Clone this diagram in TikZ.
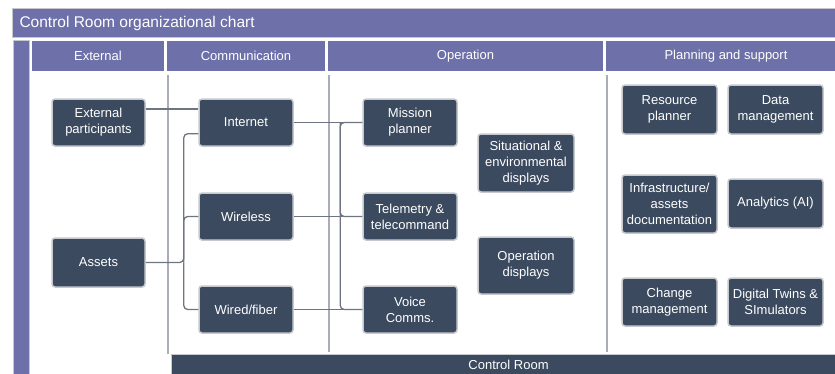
\documentclass[tikz,border=0pt]{standalone}
\usepackage{fontspec}
\setmainfont{Liberation Sans}
\definecolor{crpurple}{HTML}{6D70A9}
\definecolor{crnavy}{HTML}{3B4A5F}
\definecolor{crline}{HTML}{6F7580}
\definecolor{crrule}{HTML}{A9ADB5}
\definecolor{crrim}{HTML}{C5C9CE}
\begin{document}
\begin{tikzpicture}[x=1pt,y=-1pt,
  box/.style={draw=crrim,line width=1.5pt,fill=crnavy,rounded corners=3pt,text=white,
    font=\fontsize{13}{16}\selectfont,align=center,inner sep=0pt,
    minimum width=94pt,minimum height=47pt},
  head/.style={fill=crpurple,text=white,font=\fontsize{13}{16}\selectfont,
    inner sep=0pt,minimum height=30pt},
  link/.style={draw=crline,line width=1.3pt,rounded corners=4pt},
  rule/.style={draw=crrule,line width=1.2pt}]
	\useasboundingbox (0,0) rectangle (835,373);
	% frame
	\filldraw[fill=crpurple,draw=crrim,line width=1pt] (12,8.5) rectangle (845,37);
	\node[anchor=west,text=white,font=\fontsize{15.5}{18}\selectfont] (title) at (16,23) {Control Room organizational chart};
	\filldraw[fill=crpurple,draw=crrim,line width=1pt] (13,40) rectangle (29,390);
	\node[head,minimum width=132pt] (hext)  at (98,56)    {External};
	\node[head,minimum width=158pt] (hcom)  at (246,56)   {Communication};
	\node[head,minimum width=275pt] (hop)   at (465.5,56) {Operation};
	\node[head,minimum width=240pt] (hplan) at (726,56)   {Planning and support};
	\draw[rule] (168,75) -- (168,354);
	\draw[rule] (329,75) -- (329,352);
	\draw[rule] (607,75) -- (607,352);
	\node[draw=crrim,line width=1pt,fill=crnavy,text=white,font=\fontsize{13}{16}\selectfont,
	  minimum width=675pt,minimum height=22pt,inner sep=0pt] (room) at (508.5,365) {Control Room};
	% boxes
	\node[box,minimum width=93pt]                    (ext)       at (98.5,122.5) {External\\participants};
	\node[box,minimum width=93pt,minimum height=49pt] (assets)    at (98.5,262.5) {Assets};
	\node[box]                                       (internet)  at (246,122.5)  {Internet};
	\node[box]                                       (wireless)  at (246,216.5)  {Wireless};
	\node[box]                                       (wired)     at (246,309.5)  {Wired/fiber};
	\node[box]                                       (mission)   at (410,122.5)  {Mission\\planner};
	\node[box]                                       (telemetry) at (410,216.5)  {Telemetry \&\\telecommand};
	\node[box]                                       (voice)     at (410,309.5)  {Voice\\Comms.};
	\node[box,minimum width=96pt,minimum height=58pt] (situ)      at (526,163)    {Situational \&\\environmental\\displays};
	\node[box,minimum width=96pt,minimum height=57pt] (opdisp)    at (526,265.5)  {Operation\\displays};
	\node[box,minimum width=95pt,minimum height=49pt] (resource)  at (669.5,109.5) {Resource\\planner};
	\node[box,minimum width=95pt,minimum height=49pt] (data)      at (775.5,109.5) {Data\\management};
	\node[box,minimum width=95pt,minimum height=58pt] (infra)     at (669.5,204)   {Infrastructure/\\assets\\documentation};
	\node[box,minimum width=95pt,minimum height=49pt] (analytics) at (775.5,203.5) {Analytics (AI)};
	\node[box,minimum width=95pt,minimum height=48pt] (change)    at (669.5,302)   {Change\\management};
	\node[box,minimum width=95pt,minimum height=48pt] (twins)     at (775.5,302)   {Digital Twins \&\\SImulators};
	% links
	\coordinate (abus) at ([xshift=38pt]assets.east);
	\draw[link] ([yshift=13.5pt]ext.east) -- ([yshift=13.5pt]ext.east -| internet.west);
	\draw[link] (assets.east) -- (abus) |- ([yshift=13pt]internet.south west);
	\draw[link] (abus) |- (wireless.west);
	\draw[link] (abus) |- (wired.west);
	\draw[link] (internet.east) -- (mission.west);
	\draw[link] (wireless.east) -- (telemetry.west);
	\draw[link] (wired.east) -- (voice.west);
	\draw[link] (mission.west) -- ++(-22,0) |- (voice.west);
	\draw[link] (mission.west) ++(-22,0) |- (telemetry.west);
\end{tikzpicture}
\end{document}
